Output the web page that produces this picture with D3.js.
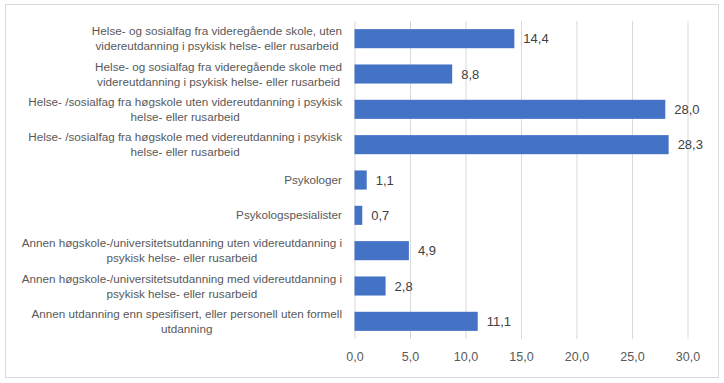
<!DOCTYPE html>
<html><head><meta charset="utf-8">
<script src="https://cdn.jsdelivr.net/npm/d3@7"></script>
<style>body{margin:0;background:#fff;} svg{display:block;font-family:"Liberation Sans",Arial,sans-serif;}</style>
</head><body>
<svg id="c" width="724" height="383"></svg>
<script>
const categories = [
  "Helse- og sosialfag fra videregående skole, uten\nvidereutdanning i psykisk helse- eller rusarbeid",
  "Helse- og sosialfag fra videregående skole med\nvidereutdanning i psykisk helse- eller rusarbeid",
  "Helse- /sosialfag fra høgskole uten videreutdanning i psykisk\nhelse- eller rusarbeid",
  "Helse- /sosialfag fra høgskole med videreutdanning i psykisk\nhelse- eller rusarbeid",
  "Psykologer",
  "Psykologspesialister",
  "Annen høgskole-/universitetsutdanning uten videreutdanning i\npsykisk helse- eller rusarbeid",
  "Annen høgskole-/universitetsutdanning med videreutdanning i\npsykisk helse- eller rusarbeid",
  "Annen utdanning enn spesifisert, eller personell uten formell\nutdanning"
];
const values = [14.4, 8.8, 28.0, 28.3, 1.1, 0.7, 4.9, 2.8, 11.1];
const xTicks = [0, 5, 10, 15, 20, 25, 30];

const fmt = v => v.toFixed(1).replace(".", ",");
const svg = d3.select("#c");
svg.append("rect").attr("x",5.5).attr("y",4.5).attr("width",713).attr("height",373)
  .attr("fill","#fff").attr("stroke","#d9d9d9");

const x = d3.scaleLinear().domain([0,30]).range([354.5,687.5]);
const y = d3.scaleBand().domain(categories).range([21,339]).paddingInner(0.46).paddingOuter(0.23);

const xAxis = svg.append("g").attr("transform","translate(0,339)")
  .call(d3.axisBottom(x).tickValues(xTicks).tickFormat(fmt).tickSize(-318).tickSizeOuter(0));
xAxis.select(".domain").remove();
xAxis.selectAll(".tick line").attr("stroke","#d9d9d9");
xAxis.selectAll(".tick text").attr("fill","#595959").attr("font-size","12.5px").attr("dy","1.5em")
  .attr("font-family","Liberation Sans, Arial, sans-serif");

svg.append("g").selectAll("rect").data(values).join("rect")
  .attr("x", x(0)).attr("y",(d,i)=>y(categories[i]))
  .attr("width", d=>x(d)-x(0)).attr("height", y.bandwidth()).attr("fill","#4472c4");

svg.append("g").selectAll("text").data(values).join("text")
  .attr("x", d=>x(d)+9).attr("y",(d,i)=>y(categories[i])+y.bandwidth()/2)
  .attr("dy","0.35em").attr("font-size","13px").attr("fill","#404040").text(fmt);

const yAxis = svg.append("g").attr("transform","translate(342,0)")
  .call(d3.axisLeft(y).tickSize(0).tickFormat(""));
yAxis.select(".domain").remove();
yAxis.selectAll(".tick").each(function(d){
  const lines = d.split("\n");
  const t = d3.select(this).append("text").attr("fill","#595959").attr("font-size","11.7px")
    .attr("text-anchor","middle");
  lines.forEach((ln,i)=>{
    t.append("tspan").attr("x",0).attr("y",(i-(lines.length-1)/2)*15).attr("dy","0.35em").text(ln);
  });
  const w = d3.max(t.selectAll("tspan").nodes(), n=>n.getComputedTextLength());
  t.selectAll("tspan").attr("x", -w/2);
});
</script>
</body></html>
